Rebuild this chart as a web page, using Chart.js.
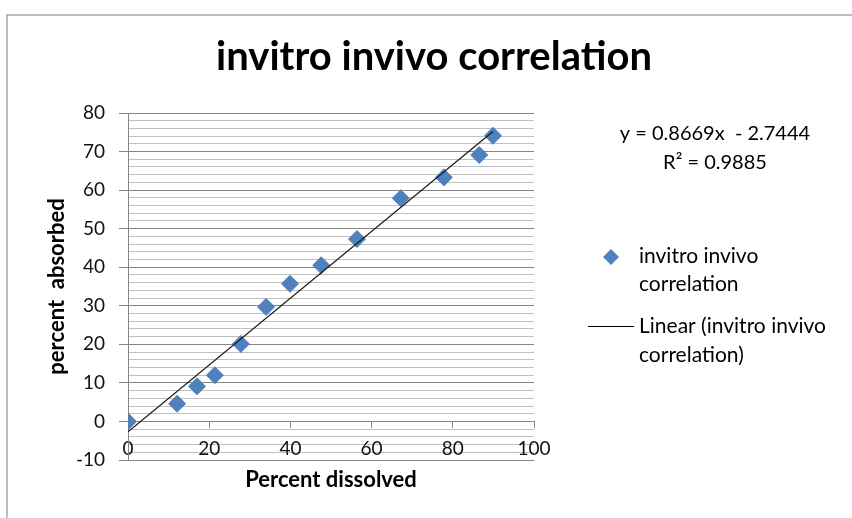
<!DOCTYPE html>
<html>
<head>
<meta charset="utf-8">
<script src="https://cdn.jsdelivr.net/npm/chart.js@4"></script>
<style>
  body { margin: 0; background: #fff; }
  #wrap { width: 852px; height: 518px; }
</style>
</head>
<body>
<div id="wrap"><canvas id="ivivc" width="852" height="518"></canvas></div>
<script>
// values
const dissolved = [0, 12.1, 17.0, 21.4, 27.8, 34.0, 39.9, 47.6, 56.4, 67.2, 77.8, 86.5, 89.9];
const absorbed = [0, 4.6, 9.1, 12.0, 20.1, 29.7, 35.7, 40.5, 47.3, 57.9, 63.3, 69.1, 74.1];
const trendX = [0, 89.9];
const trendY = [-2.7, 75.2];
const xTicks = [0, 20, 40, 60, 80, 100];
const yTicks = [-10, 0, 10, 20, 30, 40, 50, 60, 70, 80];

const seriesName = 'invitro invivo correlation';
const FONT = 'Lato, "Liberation Sans", sans-serif';
const blue = '#4f81bd';
const major = '#868686';
const minor = '#c0c0c0';

const toPoints = (xs, ys) => xs.map((x, i) => ({ x: x, y: ys[i] }));

// frame, title, equation and the side legend
const extras = {
  id: 'extras',
  beforeDraw(chart) {
    const c = chart.ctx;
    c.save();
    c.strokeStyle = '#a6a6a6';
    c.lineWidth = 1.5;
    c.beginPath();
    c.moveTo(7, 518);
    c.lineTo(7, 15);
    c.lineTo(852, 15);
    c.stroke();
    c.restore();
  },
  afterDraw(chart) {
    const c = chart.ctx;
    c.save();
    c.fillStyle = '#000';
    c.textBaseline = 'middle';
    c.textAlign = 'center';
    c.font = 'bold 40px ' + FONT;
    c.fillText(seriesName, 434, 57);

    c.font = '20px ' + FONT;
    c.fillText('y = 0.8669x  - 2.7444', 715, 134);
    c.fillText('R² = 0.9885', 715, 163);

    c.textAlign = 'left';
    c.font = '21px ' + FONT;
    // diamond marker
    c.fillStyle = blue;
    c.beginPath();
    c.moveTo(611 - 8, 257);
    c.lineTo(611, 257 - 8);
    c.lineTo(611 + 8, 257);
    c.lineTo(611, 257 + 8);
    c.closePath();
    c.fill();
    c.fillStyle = '#000';
    c.fillText('invitro invivo', 639, 256);
    c.fillText('correlation', 639, 284);

    c.strokeStyle = '#000';
    c.lineWidth = 1;
    c.beginPath();
    c.moveTo(588, 326.5);
    c.lineTo(634, 326.5);
    c.stroke();
    c.fillText('Linear (invitro invivo', 639, 326);
    c.fillText('correlation)', 639, 355);
    c.restore();
  }
};

new Chart(document.getElementById('ivivc'), {
  type: 'scatter',
  data: {
    datasets: [
      {
        label: seriesName,
        data: toPoints(dissolved, absorbed),
        pointStyle: 'rectRot',
        pointRadius: 8.5,
        backgroundColor: blue,
        borderColor: blue,
        borderWidth: 1,
        order: 2
      },
      {
        label: 'Linear (' + seriesName + ')',
        data: toPoints(trendX, trendY),
        showLine: true,
        pointRadius: 0,
        borderColor: '#1a1a1a',
        borderWidth: 1.2,
        order: 1
      }
    ]
  },
  options: {
    responsive: false,
    animation: false,
    layout: { padding: { left: 0, top: 113, right: 318, bottom: 58 } },
    plugins: {
      legend: { display: false },
      tooltip: { enabled: false },
      title: { display: false }
    },
    scales: {
      x: {
        type: 'linear',
        position: { y: 0 },
        min: 0,
        max: 100,
        afterBuildTicks: (s) => { s.ticks = xTicks.map(v => ({ value: v })); },
        grid: { drawOnChartArea: false, color: major, tickLength: 6 },
        border: { color: major },
        ticks: { color: '#111', padding: 10, font: { family: FONT, size: 19 } },
        title: {
          display: true,
          text: 'Percent dissolved',
          color: '#000',
          font: { family: FONT, size: 22, weight: 'bold' },
          padding: { top: -4, bottom: 0 }
        }
      },
      y: {
        type: 'linear',
        min: -10,
        max: 80,
        afterFit: (s) => { s.width = 128; },
        ticks: {
          stepSize: 2,
          autoSkip: false,
          color: '#111',
          padding: 14,
          font: { family: FONT, size: 19 },
          callback: (v) => yTicks.includes(v) ? v : ''
        },
        grid: {
          tickLength: 9,
          color: (ctx) => ctx.tick && ctx.tick.value % 10 === 0 ? major : minor,
          tickColor: (ctx) => ctx.tick && ctx.tick.value % 10 === 0 ? major : 'rgba(0,0,0,0)'
        },
        border: { color: major },
        title: {
          display: true,
          text: 'percent  absorbed',
          color: '#000',
          font: { family: FONT, size: 22, weight: 'bold' },
          padding: { top: 44, bottom: 0 }
        }
      }
    }
  },
  plugins: [extras]
});
</script>
</body>
</html>
